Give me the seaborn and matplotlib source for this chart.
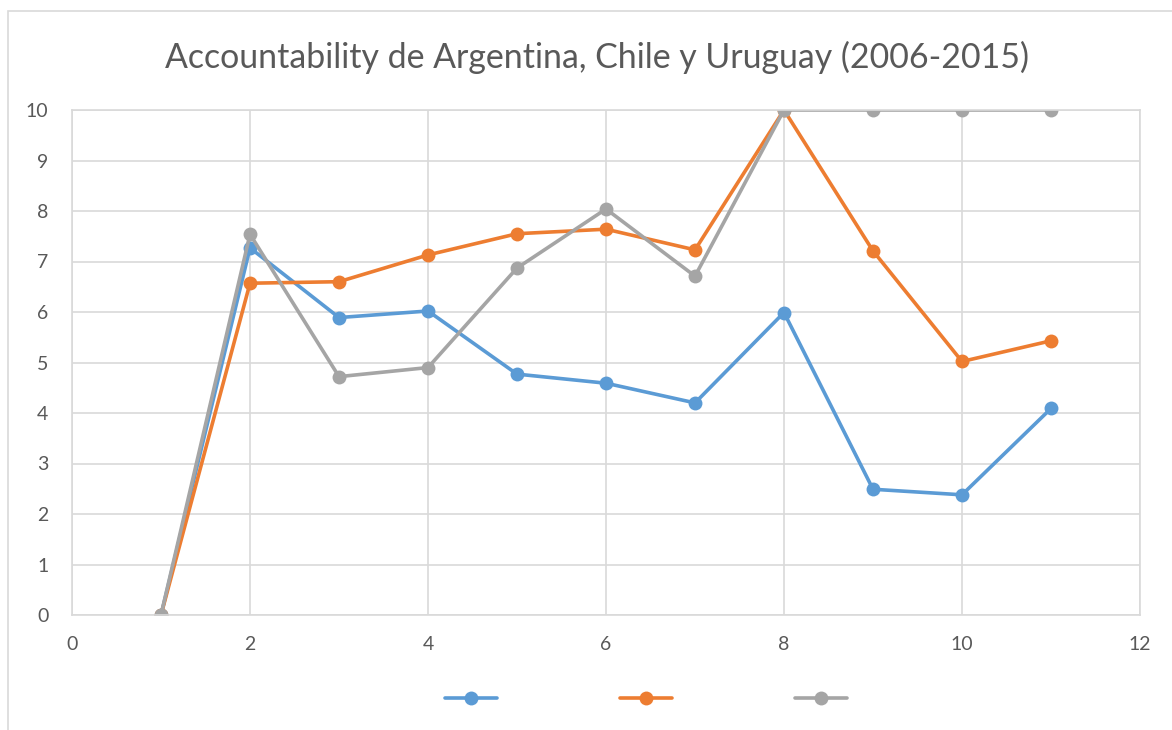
import matplotlib
matplotlib.use("Agg")
import matplotlib.pyplot as plt
import pandas as pd
import seaborn as sns
from matplotlib.patches import Rectangle

# datos
anios = [1, 2, 3, 4, 5, 6, 7, 8, 9, 10, 11]
serie_1 = [0, 7.27, 5.89, 6.02, 4.77, 4.59, 4.20, 5.99, 2.49, 2.38, 4.09]
serie_2 = [0, 6.57, 6.60, 7.13, 7.55, 7.64, 7.23, 10, 7.21, 5.02, 5.43]
serie_3 = [0, 7.54, 4.72, 4.90, 6.87, 8.04, 6.71, 10, 10, 10, 10]
nombres = ["Serie1", "Serie2", "Serie3"]
colores = ["#5B9BD5", "#ED7D31", "#A5A5A5"]
titulo = "Accountability de Argentina, Chile y Uruguay (2006-2015)"

df = pd.DataFrame({
    "x": anios * 3,
    "y": serie_1 + serie_2 + serie_3,
    "serie": [nombres[0]] * len(anios) + [nombres[1]] * len(anios) + [nombres[2]] * len(anios),
})

sns.set_style("white")
plt.rcParams["font.family"] = ["Lato", "DejaVu Sans"]

fig = plt.figure(figsize=(11.72, 7.30), dpi=100)
ax = fig.add_axes([72 / 1172, 1 - 615 / 730, (1140 - 72) / 1172, (615 - 110) / 730])

sns.lineplot(data=df, x="x", y="y", hue="serie", palette=colores, sort=False,
             marker="o", markersize=10, markeredgewidth=0, linewidth=2.6,
             legend=False, ax=ax)

ax.set_xlim(0, 12)
ax.set_ylim(0, 10)
ax.set_xticks(range(0, 13, 2))
ax.set_yticks(range(0, 11))
ax.grid(True, color="#D9D9D9", linewidth=1.2)
ax.set_axisbelow(True)
for s in ax.spines.values():
    s.set_color("#D9D9D9")
    s.set_linewidth(1.2)
ax.tick_params(length=0, labelsize=14, colors="#595959")
ax.tick_params(axis="y", pad=17)
ax.tick_params(axis="x", pad=15)
ax.set_xlabel("")
ax.set_ylabel("")

fig.text(596.5 / 1172, 1 - 57 / 730, titulo, ha="center", va="center",
         fontsize=24.4, color="#595959", fontweight="normal")

handles = ax.get_lines()[:3]
fig.legend(handles, ["", "", ""], loc="center", bbox_to_anchor=(646 / 1172, 1 - 699 / 730),
           ncol=3, frameon=False, fontsize=13, handlelength=2.9, handletextpad=0,
           columnspacing=6.8)

fig.patches.append(Rectangle((8 / 1172, -0.05), 1.1, 1 - 11 / 730 + 0.05,
                             transform=fig.transFigure, fill=False,
                             edgecolor="#D9D9D9", linewidth=1.2))

fig.savefig("out.png", dpi=100)
